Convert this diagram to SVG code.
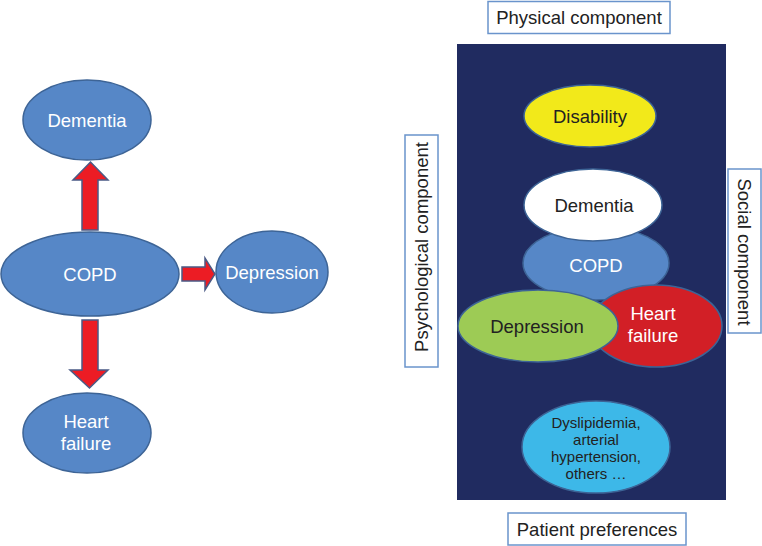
<svg xmlns="http://www.w3.org/2000/svg" width="762" height="546" viewBox="0 0 762 546">
<style>
text{font-family:"Liberation Sans",Arial,sans-serif;text-anchor:middle}
.bl{fill:#5687C7;stroke:#3D6496;stroke-width:1.5}
.wt{fill:#fff;font-size:18.5px}
.dk{fill:#222;font-size:18.5px}
.arr{fill:#EC1C24;stroke:#4A5A85;stroke-width:1.5;stroke-linejoin:miter}
.lab{fill:#fff;stroke:#6A94CC;stroke-width:1.5}
.lt{fill:#222;font-size:18.5px}
.sm{fill:#222;font-size:15px}
</style>
<rect width="762" height="546" fill="#fff"/>
<g id="connectors">
<polygon class="arr" points="82,230 82,180 73,180 90.5,162 108,180 98,180 98,230"/>
<polygon class="arr" points="182,267 205,267 205,258 215,274 205,290 205,281 182,281"/>
<polygon class="arr" points="82,320 98,320 98,370 108,370 89.5,388 70,370 82,370"/>
</g>
<g id="dementia-left"><ellipse class="bl" cx="87" cy="120" rx="64" ry="40"/><text class="wt" x="87" y="127">Dementia</text></g>
<g id="copd-left"><ellipse class="bl" cx="90" cy="274" rx="89" ry="42"/><text class="wt" x="90" y="281">COPD</text></g>
<g id="depression-left"><ellipse class="bl" cx="272" cy="272" rx="56" ry="41"/><text class="wt" x="272" y="279">Depression</text></g>
<g id="heart-left"><ellipse class="bl" cx="87" cy="433" rx="64" ry="40"/><text class="wt" x="86" y="428">Heart</text><text class="wt" x="86" y="450">failure</text></g>

<g id="panel"><rect x="457" y="44" width="269" height="456" fill="#202B60"/></g>
<g id="physical"><rect class="lab" x="488" y="1.5" width="182" height="32"/><text class="lt" x="579" y="24">Physical component</text></g>
<g id="patient"><rect class="lab" x="508" y="513" width="178" height="32"/><text class="lt" x="597" y="536">Patient preferences</text></g>
<g id="psych"><rect class="lab" x="405" y="135" width="33" height="232"/><text class="lt" transform="translate(428,247) rotate(-90)">Psychological component</text></g>
<g id="social"><rect class="lab" x="728" y="169" width="33" height="164"/><text class="lt" transform="translate(738,252) rotate(90)">Social component</text></g>

<g id="disability"><ellipse cx="590" cy="116" rx="66" ry="31" fill="#F2E91A" stroke="#3D6496" stroke-width="1.5"/><text class="dk" x="590" y="123">Disability</text></g>
<g id="copd-right"><ellipse class="bl" cx="596" cy="263" rx="73" ry="37"/><text class="wt" x="596" y="272">COPD</text></g>
<g id="dementia-right"><ellipse cx="593" cy="205" rx="69" ry="36" fill="#fff" stroke="#3D6496" stroke-width="1.5"/><text class="dk" x="594" y="212">Dementia</text></g>
<g id="heart-right"><ellipse cx="656" cy="326" rx="66" ry="41" fill="#D21F26" stroke="#3D6496" stroke-width="1.5"/><text class="wt" x="653" y="320">Heart</text><text class="wt" x="653" y="342">failure</text></g>
<g id="depression-right"><ellipse cx="538" cy="326" rx="80" ry="36" fill="#9DCB55" stroke="#3D6496" stroke-width="1.5"/><text class="dk" x="537" y="333">Depression</text></g>
<g id="dyslipidemia"><ellipse cx="596" cy="447" rx="74" ry="46" fill="#3DB8E8" stroke="#3D6496" stroke-width="1.5"/>
<text class="sm" x="596" y="428">Dyslipidemia,</text>
<text class="sm" x="596" y="445">arterial</text>
<text class="sm" x="596" y="462">hypertension,</text>
<text class="sm" x="596" y="479">others …</text></g>
</svg>
